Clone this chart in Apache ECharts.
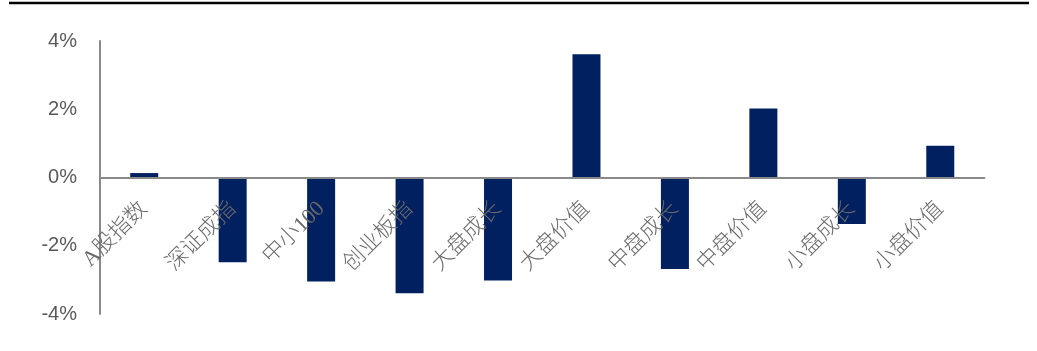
<!DOCTYPE html>
<html>
<head>
<meta charset="utf-8">
<script src="https://cdn.jsdelivr.net/npm/echarts@6/dist/echarts.min.js"></script>
<style>
html,body{margin:0;padding:0;background:#fff;}
#chart{width:1037px;height:351px;}
</style>
</head>
<body>
<div id="chart"></div>
<script>
var categories = ['A股指数','深证成指','中小100','创业板指','大盘成长','大盘价值','中盘成长','中盘价值','小盘成长','小盘价值'];
var values = [0.13, -2.48, -3.05, -3.39, -3.02, 3.61, -2.68, 2.02, -1.36, 0.93];
var yTicks = [-4, -2, 0, 2, 4];

var gridTop = 41, gridBottom = 37, H = 351;
var plotH = H - gridTop - gridBottom;
var zeroOffset = -plotH * (0 - yTicks[0]) / (yTicks[yTicks.length - 1] - yTicks[0]);

var chart = echarts.init(document.getElementById('chart'), null, {renderer:'canvas'});
chart.setOption({
  animation: false,
  backgroundColor: '#ffffff',
  grid: {left: 100, right: 52.5, top: gridTop, bottom: gridBottom, containLabel: false, outerBoundsMode: 'none'},
  graphic: [{
    type: 'line',
    shape: {x1: 9, y1: 3, x2: 1029, y2: 3},
    style: {stroke: '#000000', lineWidth: 2.5}
  }],
  xAxis: {
    type: 'category',
    data: categories,
    boundaryGap: true,
    position: 'bottom',
    offset: zeroOffset,
    z: 5,
    axisLine: {show: true, onZero: false, lineStyle: {color: '#898989', width: 2}},
    axisTick: {show: false},
    splitLine: {show: false},
    axisLabel: {
      interval: 0,
      rotate: 45,
      margin: 28,
      fontSize: 22,
      fontWeight: 300,
      color: '#6a6a6a',
      fontFamily: "'Liberation Serif', 'Noto Sans CJK SC', serif"
    }
  },
  yAxis: {
    type: 'value',
    min: yTicks[0],
    max: yTicks[yTicks.length - 1],
    interval: 2,
    axisLine: {show: true, lineStyle: {color: '#898989', width: 2}},
    axisTick: {show: false},
    splitLine: {show: false},
    axisLabel: {
      margin: 23,
      fontSize: 20,
      color: '#595959',
      fontFamily: "'Liberation Sans', Arial, sans-serif",
      formatter: '{value}%'
    }
  },
  series: [{
    type: 'bar',
    data: values,
    barWidth: 28,
    itemStyle: {color: '#002060'}
  }]
});
</script>
</body>
</html>
